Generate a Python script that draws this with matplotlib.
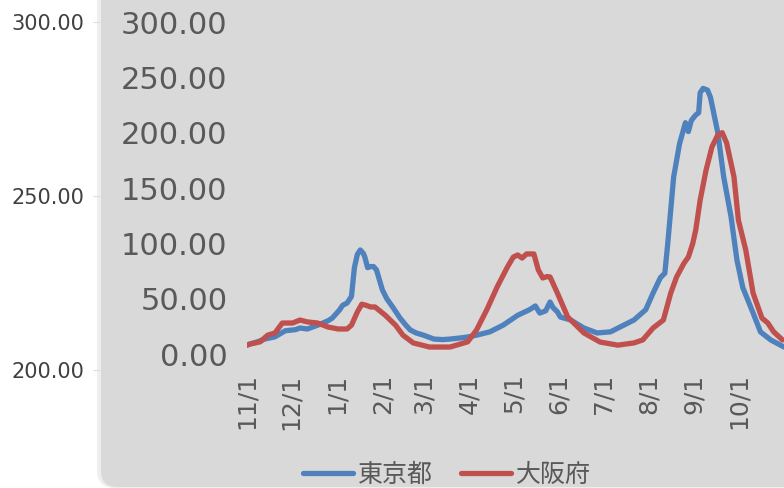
import numpy as np
import pandas as pd
import matplotlib
matplotlib.use("Agg")
import matplotlib.pyplot as plt
from matplotlib.patches import FancyBboxPatch

plt.rcParams['font.family'] = ['DejaVu Sans', 'Noto Sans CJK JP']

# day offsets from 2020-11-01 and values
start = pd.Timestamp("2020-11-01")

tokyo_day = [0, 2, 7, 12, 19, 26, 33, 36, 41, 48, 55, 58, 63, 65, 68, 70, 71, 73, 75, 77,
             79, 80, 82, 84, 86, 88, 92, 95, 99, 104, 108, 111, 115, 120, 127, 133, 138,
             145, 150, 156, 165, 174, 184, 192, 196, 199, 203, 206, 208, 211, 213, 220,
             229, 238, 247, 256, 263, 271, 276, 281, 284, 286, 288, 290, 294, 298, 300,
             302, 305, 307, 308, 310, 313, 315, 320, 324, 329, 333, 337, 344, 349, 356, 365]
tokyo_val = [8, 9, 11, 13.5, 15.5, 21, 22, 23.5, 22.6, 26, 30, 32.5, 40, 44, 46, 50, 52, 78,
             90, 94, 91, 88, 78, 79, 79, 76, 58, 50, 42.5, 32.5, 26, 21.7, 19, 17, 13.5, 13,
             13.5, 14.5, 15.4, 17, 20, 26, 35, 40, 43.4, 37, 39, 47, 42, 38, 33.4, 30.7,
             23.5, 19, 20, 26, 30.7, 40, 55, 69, 73, 100, 130, 160, 190, 209, 201, 211, 216,
             218, 236, 240, 238.5, 232, 200, 160, 124, 85, 60, 37, 20, 12.7, 6.3]

osaka_day = [0, 2, 9, 14, 19, 24, 31, 36, 41, 48, 55, 62, 68, 71, 75, 78, 81, 84, 87, 94,
             101, 106, 113, 124, 138, 150, 156, 163, 170, 177, 181, 184, 187, 190, 195, 198,
             201, 204, 206, 211, 218, 229, 240, 252, 263, 269, 276, 283, 288, 292, 297, 300,
             303, 305, 308, 312, 316, 320, 323, 326, 331, 334, 339, 344, 350, 354, 358, 364]
osaka_val = [8, 9, 11, 17, 19, 28, 28, 30.7, 29, 28, 24.4, 22.6, 22.6, 26, 38, 45, 44, 42.5,
             42.5, 35, 26, 17, 10, 6.3, 6.3, 11, 21.7, 40, 60.5, 78.6, 87.6, 89.5, 86.7, 90.4,
             90.4, 76, 68.7, 70, 69.6, 55, 33.4, 19, 10.8, 8, 10, 12.7, 23.5, 30.7, 55, 69.6,
             82, 87.6, 100, 112, 139, 166, 187, 198, 200, 190.7, 160, 121, 94, 55, 32.5, 28,
             20, 12.7]

series_names = ["東京都", "大阪府"]
y_ticks = [0, 50, 100, 150, 200, 250, 300]
back_ticks = [200, 250, 300]
x_ticks = pd.date_range("2020-11-01", "2021-10-01", freq="MS")

tokyo_dates = start + pd.to_timedelta(tokyo_day, unit="D")
osaka_dates = start + pd.to_timedelta(osaka_day, unit="D")

W, H = 784, 488
fig = plt.figure(figsize=(W / 100, H / 100), dpi=100)
fig.patch.set_facecolor("white")

# background layer: the gray rounded panel
bg = fig.add_axes([0, 0, 1, 1])
bg.set_xlim(0, W)
bg.set_ylim(0, H)
bg.axis("off")
bg.add_patch(FancyBboxPatch((97, 0), 900, 700, boxstyle="round,pad=0,rounding_size=18",
                            facecolor="#eeeeee", edgecolor="none"))
bg.add_patch(FancyBboxPatch((101, 1), 900, 700, boxstyle="round,pad=0,rounding_size=16",
                            facecolor="#d9d9d9", edgecolor="none"))

# the chart behind (only its axis labels are visible)
back = fig.add_axes([100 / W, (H - 370) / H, 0.001, 348 / H])
back.set_ylim(200, 300)
back.set_yticks(back_ticks)
back.set_yticklabels([f"{t:.2f}" for t in back_ticks])
back.set_xticks([])
for s in back.spines.values():
    s.set_visible(False)
back.patch.set_visible(False)
back.tick_params(axis="y", length=5, color="#dddddd", labelsize=15, labelcolor="#404040", pad=6.5)

# main chart
ax = fig.add_axes([247 / W, (H - 354) / H, 537 / W, 332 / H])
ax.patch.set_visible(False)
ax.plot(tokyo_dates, tokyo_val, color="#4F81BD", lw=3.8, label=series_names[0],
        solid_joinstyle="round", solid_capstyle="round")
ax.plot(osaka_dates, osaka_val, color="#C0504D", lw=3.8, label=series_names[1],
        solid_joinstyle="round", solid_capstyle="round")

ax.set_xlim(start, start + pd.Timedelta(days=365))
ax.set_ylim(0, 300)
ax.set_yticks(y_ticks)
ax.set_yticklabels([f"{t:.2f}" for t in y_ticks])
ax.set_xticks(x_ticks)
ax.set_xticklabels([f"{d.month}/{d.day}" for d in x_ticks], rotation=90)
for s in ax.spines.values():
    s.set_visible(False)
ax.tick_params(axis="y", length=0, labelsize=22, labelcolor="#595959", pad=14)
ax.tick_params(axis="x", length=0, labelsize=18, labelcolor="#595959", pad=14)

ax.legend(loc="center", bbox_to_anchor=(447 / W, 13 / H), bbox_transform=fig.transFigure,
          ncol=2, frameon=False, fontsize=18, handlelength=2.0, handletextpad=0.2,
          columnspacing=1.1, labelcolor="#595959")

fig.savefig("out.png", dpi=100)
